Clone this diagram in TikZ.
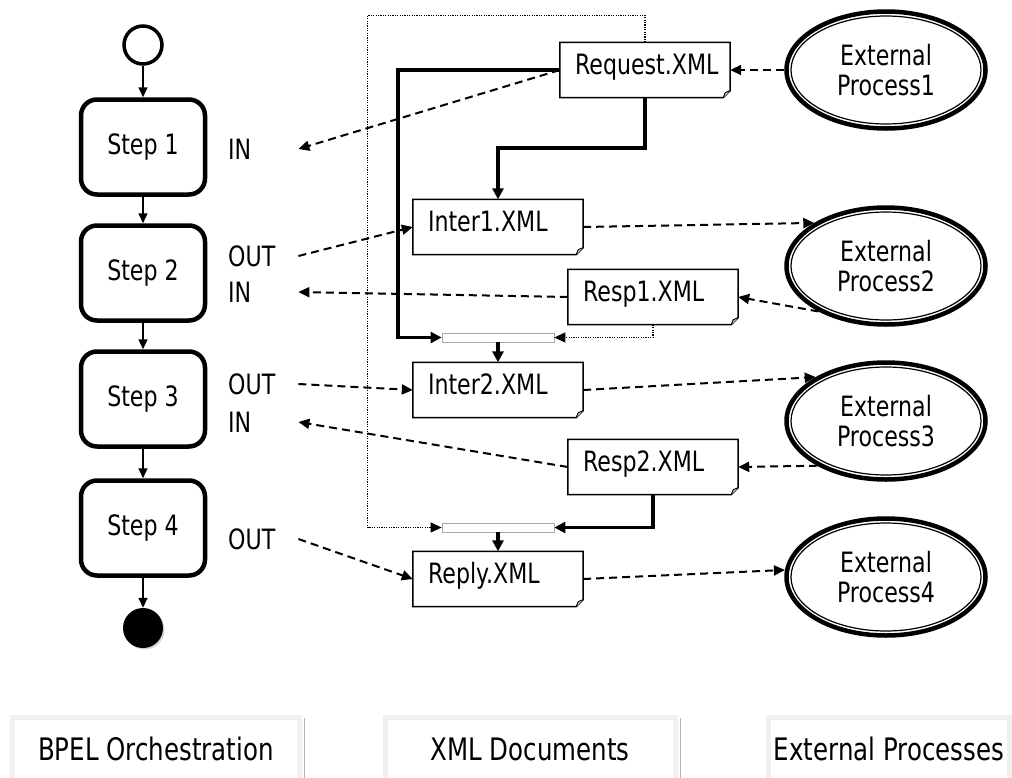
\documentclass[tikz,border=0pt]{standalone}
\usepackage{fontspec}
\setmainfont{DejaVu Sans}[FakeStretch=0.79]
\usetikzlibrary{arrows.meta}
\usetikzlibrary{shapes.geometric}
\usetikzlibrary{shadows}

\tikzset{
	stepbox/.style={draw, line width=4.5pt, rounded corners=16pt, minimum width=124pt, minimum height=95pt},
	xmldoc/.style={minimum width=170pt, minimum height=55pt, inner xsep=15pt, inner ysep=0pt, text width=140pt, align=left, text height=20pt, text depth=12pt},
	extproc/.style={ellipse, draw, line width=4.5pt, minimum width=199pt, minimum height=117pt, inner sep=0pt, align=center},
	joinbar/.style={draw=gray!70, line width=0.8pt, fill=white, minimum width=112pt, minimum height=9pt, inner sep=0pt},
	io/.style={text width=70pt, align=left, inner sep=0pt, anchor=west},
	tab/.style={draw=gray!12, line width=5pt, minimum height=63pt, font=\fontsize{31}{36}\selectfont},
	next/.style={line width=1.5pt, -{Triangle[length=10pt,width=9pt]}},
	msg/.style={line width=2pt, dash pattern=on 8pt off 5pt, -{Triangle[length=11pt,width=10pt]}},
	flow/.style={line width=3.8pt, -{Triangle[length=11pt,width=11pt]}},
	ctrl/.style={line width=1.2pt, dash pattern=on 1.2pt off 1.2pt, -{Triangle[length=11pt,width=10pt]}}
}

\begin{document}
\begin{tikzpicture}[x=1pt, y=-1pt, font=\fontsize{28}{30}\selectfont]
	\useasboundingbox (0,0) rectangle (1012,777);

	% BPEL-flödet
	\node [draw, circle, line width=3.5pt, minimum size=38pt, inner sep=0pt] (start) at (143,45) {};
	\node [stepbox] (s1) at (143,147) {Step 1};
	\node [stepbox] (s2) at (143,273) {Step 2};
	\node [stepbox] (s3) at (143,399) {Step 3};
	\node [stepbox] (s4) at (143,528) {Step 4};
	\node [circle, fill=black, minimum size=40pt, inner sep=0pt, drop shadow={shadow xshift=1.5pt, shadow yshift=-1.5pt, fill=gray!70}] (stop) at (143,628) {};
	\draw [next] (start) -- (s1);
	\draw [next] (s1) -- (s2);
	\draw [next] (s2) -- (s3);
	\draw [next] (s3) -- (s4);
	\draw [next] (s4) -- (stop);

	\node [io] (in1) at (228,149) {IN};
	\node [io] (out2) at (228,256) {OUT};
	\node [io] (in2) at (228,292) {IN};
	\node [io] (out3) at (228,384) {OUT};
	\node [io] (in3) at (228,422) {IN};
	\node [io] (out4) at (228,539) {OUT};

	% XML-dokumenten
	\node [xmldoc] (req) at (645,70) {Request.XML};
	\node [xmldoc] (int1) at (498,227) {Inter1.XML};
	\node [xmldoc] (resp1) at (653,297) {Resp1.XML};
	\node [joinbar] (bar1) at (498,337.5) {};
	\node [xmldoc] (int2) at (498,390) {Inter2.XML};
	\node [xmldoc] (resp2) at (653,467) {Resp2.XML};
	\node [joinbar] (bar2) at (498,527.5) {};
	\node [xmldoc] (reply) at (498,579) {Reply.XML};
	\foreach \d in {req,int1,resp1,int2,resp2,reply} {
		\draw [line width=1.5pt] (\d.north west) -- (\d.north east) -- ([yshift=7pt]\d.south east) -- ([xshift=-7pt]\d.south east) -- (\d.south west) -- cycle; % hundöra
		\draw [line width=1pt, fill=gray!30] ([xshift=-7pt]\d.south east) -- ([xshift=-5pt,yshift=5pt]\d.south east) -- ([yshift=7pt]\d.south east);
	}

	% Externa processer
	\node [extproc] (ext1) at (886,70) {External\\Process1};
	\node [extproc] (ext2) at (886,266) {External\\Process2};
	\node [extproc] (ext3) at (886,421) {External\\Process3};
	\node [extproc] (ext4) at (886,577) {External\\Process4};
	\foreach \e in {ext1,ext2,ext3,ext4}
		\draw [line width=1.2pt] (\e.center) ellipse [x radius=95pt, y radius=54pt];

	% Dataflödet
	\draw [flow] (req.west) -| ([xshift=-44pt]bar1.west) -- (bar1.west);
	\draw [flow] (req.south) -- ++(0,50) -| (int1.north);
	\draw [flow] (bar1.south) -- (int2.north);
	\draw [ctrl] (resp1.south) |- (bar1.east);
	\draw [ctrl] (req.north) -- ++(0,-27) -| ([xshift=-74pt]bar2.west) -- (bar2.west);
	\draw [flow] (resp2.south) |- (bar2.east);
	\draw [flow] (bar2.south) -- (reply.north);

	% Meddelanden
	\draw [msg] (req.west) -- (in1.east);
	\draw [msg] (out2.east) -- (int1.west);
	\draw [msg] (resp1.west) -- (in2.east);
	\draw [msg] (out3.east) -- (int2.west);
	\draw [msg] (resp2.west) -- (in3.east);
	\draw [msg] (out4.east) -- (reply.west);
	\draw [msg] (ext1.west) -- (req.east);
	\draw [msg] (int1.east) -- (ext2.149);
	\draw [msg] (ext2.214) -- (resp1.east);
	\draw [msg] (int2.east) -- (ext3.148);
	\draw [msg] (ext3.213) -- (resp2.east);
	\draw [msg] (reply.east) -- (ext4.176);

	% Rubriker
	\node [tab, minimum width=287pt] (tbpel) at (156,749) {BPEL Orchestration};
	\node [tab, minimum width=290pt] (txml) at (530,749) {XML Documents};
	\node [tab, minimum width=241pt] (text) at (889,749) {External Processes};
	\foreach \t in {tbpel,txml,text}
		\draw [gray!60, line width=1pt] ([xshift=2.5pt,yshift=-3pt]\t.north east) -- ([xshift=2.5pt]\t.south east);
\end{tikzpicture}
\end{document}
